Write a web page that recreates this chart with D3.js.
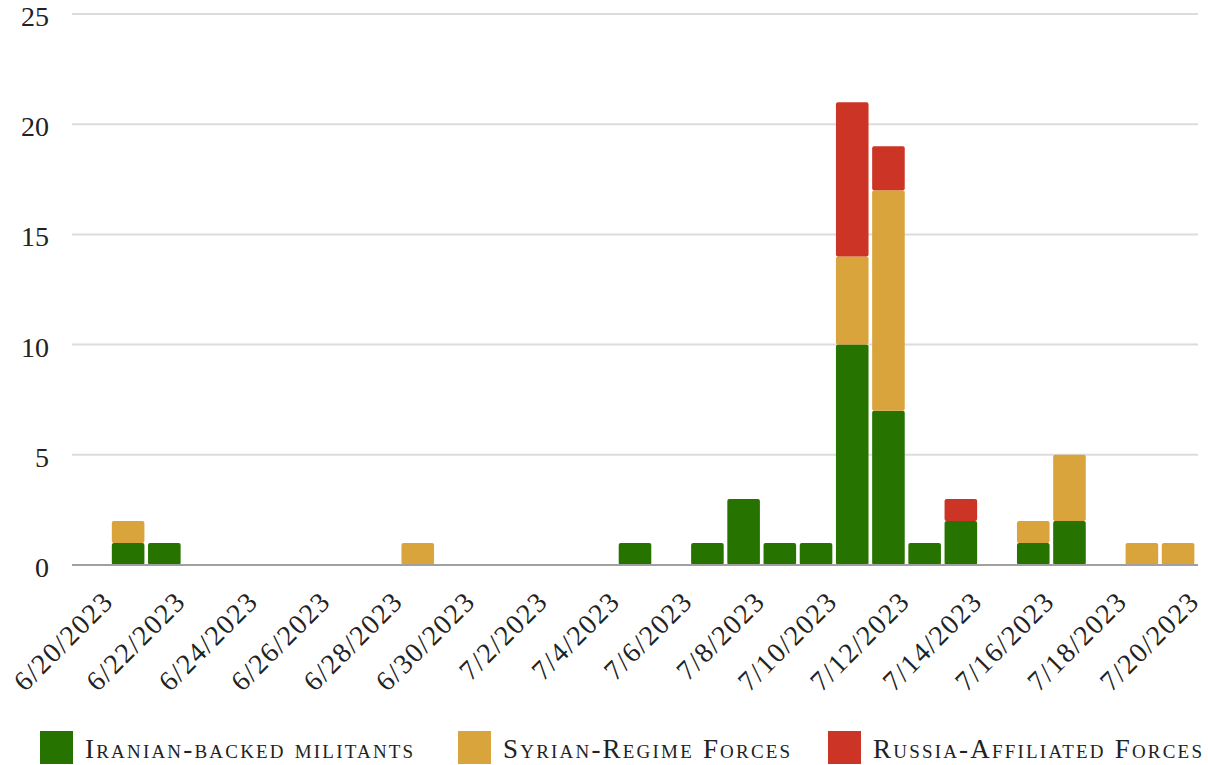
<!DOCTYPE html>
<html>
<head>
<meta charset="utf-8">
<script src="https://cdn.jsdelivr.net/npm/d3@7"></script>
<style>
  html, body { margin: 0; padding: 0; background: #fff; }
  svg { display: block; }
  text { font-family: "Liberation Serif", "DejaVu Serif", serif; fill: #222; }
</style>
</head>
<body>
<svg id="chart" width="1208" height="765"></svg>
<script>
const dates = ["6/20/2023","6/21/2023","6/22/2023","6/23/2023","6/24/2023","6/25/2023","6/26/2023","6/27/2023","6/28/2023","6/29/2023","6/30/2023",
  "7/1/2023","7/2/2023","7/3/2023","7/4/2023","7/5/2023","7/6/2023","7/7/2023","7/8/2023","7/9/2023","7/10/2023",
  "7/11/2023","7/12/2023","7/13/2023","7/14/2023","7/15/2023","7/16/2023","7/17/2023","7/18/2023","7/19/2023","7/20/2023"];
const iranian = [0,1,1,0,0,0,0,0,0,0,0, 0,0,0,0,1,0,1,3,1,1, 10,7,1,2,0,1,2,0,0,0];
const syrian  = [0,1,0,0,0,0,0,0,0,1,0, 0,0,0,0,0,0,0,0,0,0, 4,10,0,0,0,1,3,0,1,1];
const russia  = [0,0,0,0,0,0,0,0,0,0,0, 0,0,0,0,0,0,0,0,0,0, 7,2,0,1,0,0,0,0,0,0];
const seriesNames = ["Iranian-backed militants","Syrian-Regime Forces","Russia-Affiliated Forces"];
const seriesColors = ["#267300","#daa43c","#cc3426"];
const yTicks = [0,5,10,15,20,25];
const xTickLabels = dates.filter((d,i) => i % 2 === 0);

const svg = d3.select("#chart");
const mLeft = 72, mRight = 1198, mTop = 14, mBottom = 565;

const x = d3.scaleBand().domain(dates).range([mLeft, mRight]).padding(0.1);
const y = d3.scaleLinear().domain([0,25]).range([mBottom, mTop]);

// gridlines
svg.append("g").selectAll("line").data(yTicks.filter(t => t > 0)).join("line")
  .attr("x1", mLeft).attr("x2", mRight)
  .attr("y1", d => y(d)).attr("y2", d => y(d))
  .attr("stroke", "#dcdcdc").attr("stroke-width", 2);

// y labels
svg.append("g").selectAll("text").data(yTicks).join("text")
  .attr("x", 49).attr("y", d => y(d)).attr("dy", "0.43em")
  .attr("text-anchor", "end").attr("font-size", 28)
  .text(d => d);

// stacked bars
const table = dates.map((d,i) => ({date: d, s0: iranian[i], s1: syrian[i], s2: russia[i]}));
const stack = d3.stack().keys(["s0","s1","s2"])(table);
svg.append("g").selectAll("g").data(stack).join("g")
  .attr("fill", (d,i) => seriesColors[i])
  .selectAll("rect").data(d => d.filter(p => p[1] > p[0])).join("rect")
  .attr("x", d => x(d.data.date))
  .attr("width", x.bandwidth())
  .attr("y", d => y(d[1]))
  .attr("height", d => y(d[0]) - y(d[1]))
  .attr("rx", 2);

// baseline
svg.append("line").attr("x1", mLeft).attr("x2", mRight)
  .attr("y1", y(0)).attr("y2", y(0))
  .attr("stroke", "#a0a0a0").attr("stroke-width", 2);

// x labels
svg.append("g").selectAll("text").data(xTickLabels).join("text")
  .attr("transform", d => `translate(${x(d) + x.bandwidth()/2 + 23},${y(0) + 38}) rotate(-45)`)
  .attr("text-anchor", "end").attr("font-size", 28)
  .style("letter-spacing", "1.5px")
  .text(d => d);

// legend
const legendX = [40, 458, 828];
const lg = svg.append("g").selectAll("g").data(seriesNames).join("g")
  .attr("transform", (d,i) => `translate(${legendX[i]},731)`);
lg.append("rect").attr("width", 33).attr("height", 33).attr("fill", (d,i) => seriesColors[i]);
lg.append("text").attr("x", 45).attr("y", 27)
  .attr("font-size", 27).style("font-variant", "small-caps")
  .style("letter-spacing", "2.2px")
  .text(d => d);
</script>
</body>
</html>
